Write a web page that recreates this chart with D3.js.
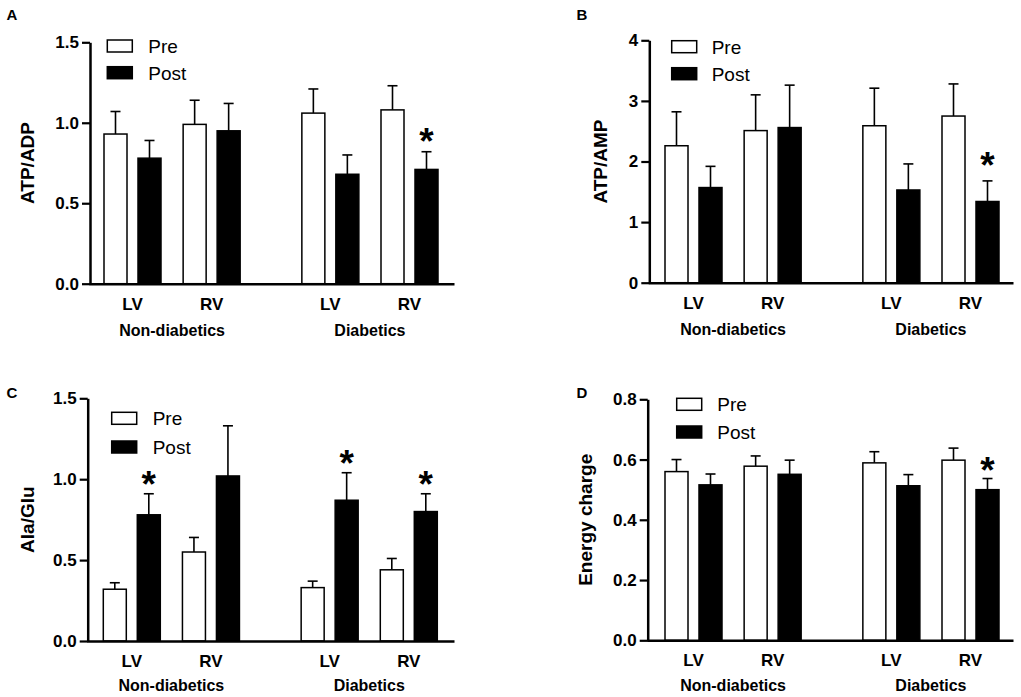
<!DOCTYPE html>
<html>
<head>
<meta charset="utf-8">
<script src="https://cdn.jsdelivr.net/npm/d3@7"></script>
<style>
  html, body { margin: 0; padding: 0; background: #fff; }
  svg { display: block; font-family: "Liberation Sans", Arial, sans-serif; }
</style>
</head>
<body>
<svg id="chart" width="1021" height="697"></svg>
<script>
// ---------- data ----------
const groupNames = ["Non-diabetics", "Diabetics"];
const ventricles = ["LV", "RV", "LV", "RV"];
const seriesNames = ["Pre", "Post"];

// Panel A: ATP/ADP
const atpAdpPre = [0.93, 0.99, 1.06, 1.08];
const atpAdpPreSem = [0.14, 0.15, 0.15, 0.15];
const atpAdpPost = [0.78, 0.95, 0.68, 0.71];
const atpAdpPostSem = [0.11, 0.17, 0.12, 0.11];
const atpAdpSig = [0, 0, 0, 1];
const atpAdpTicks = [0, 0.5, 1.0, 1.5];
const atpAdpTickLabels = ["0.0", "0.5", "1.0", "1.5"];

// Panel B: ATP/AMP
const atpAmpPre = [2.26, 2.51, 2.59, 2.75];
const atpAmpPreSem = [0.56, 0.59, 0.62, 0.53];
const atpAmpPost = [1.57, 2.56, 1.53, 1.34];
const atpAmpPostSem = [0.35, 0.70, 0.43, 0.34];
const atpAmpSig = [0, 0, 0, 1];
const atpAmpTicks = [0, 1, 2, 3, 4];
const atpAmpTickLabels = ["0", "1", "2", "3", "4"];

// Panel C: Ala/Glu
const alaGluPre = [0.32, 0.55, 0.33, 0.44];
const alaGluPreSem = [0.04, 0.09, 0.04, 0.07];
const alaGluPost = [0.78, 1.02, 0.87, 0.80];
const alaGluPostSem = [0.13, 0.31, 0.17, 0.11];
const alaGluSig = [1, 0, 1, 1];
const alaGluTicks = [0, 0.5, 1.0, 1.5];
const alaGluTickLabels = ["0.0", "0.5", "1.0", "1.5"];

// Panel D: Energy charge
const energyPre = [0.560, 0.578, 0.589, 0.598];
const energyPreSem = [0.040, 0.034, 0.037, 0.040];
const energyPost = [0.516, 0.551, 0.513, 0.500];
const energyPostSem = [0.036, 0.047, 0.037, 0.037];
const energySig = [0, 0, 0, 1];
const energyTicks = [0, 0.2, 0.4, 0.6, 0.8];
const energyTickLabels = ["0.0", "0.2", "0.4", "0.6", "0.8"];

// category slot positions (gap between groups)
const slots = [0, 1, 2.5, 3.5];

// ---------- layout ----------
const panels = [
  { letter: "A", title: "ATP/ADP", pre: atpAdpPre, preSem: atpAdpPreSem, post: atpAdpPost, postSem: atpAdpPostSem,
    sig: atpAdpSig, ticks: atpAdpTicks, tickLabels: atpAdpTickLabels,
    letterX: 12, letterY: 15, axisX: 90, yTop: 42.3, yBot: 283.7, xEnd: 454, c0: 132.5,
    titleX: 27, legX: 107.3, legY: [40, 66.7], legTextX: 148.3, groupDy: 47, starOff: 19 },
  { letter: "B", title: "ATP/AMP", pre: atpAmpPre, preSem: atpAmpPreSem, post: atpAmpPost, postSem: atpAmpPostSem,
    sig: atpAmpSig, ticks: atpAmpTicks, tickLabels: atpAmpTickLabels,
    letterX: 582, letterY: 15, axisX: 649.3, yTop: 40.3, yBot: 282.7, xEnd: 1013, c0: 693.5,
    titleX: 600, legX: 671.7, legY: [40.7, 67.7], legTextX: 711.7, groupDy: 47, starOff: 24 },
  { letter: "C", title: "Ala/Glu", pre: alaGluPre, preSem: alaGluPreSem, post: alaGluPost, postSem: alaGluPostSem,
    sig: alaGluSig, ticks: alaGluTicks, tickLabels: alaGluTickLabels,
    letterX: 12, letterY: 393, axisX: 87.7, yTop: 398.3, yBot: 641, xEnd: 454, c0: 131.8,
    titleX: 27, legX: 111.7, legY: [412.3, 441], legTextX: 152.7, groupDy: 44, starOff: 18 },
  { letter: "D", title: "Energy charge", pre: energyPre, preSem: energyPreSem, post: energyPost, postSem: energyPostSem,
    sig: energySig, ticks: energyTicks, tickLabels: energyTickLabels,
    letterX: 582, letterY: 393, axisX: 647.7, yTop: 399.3, yBot: 640.3, xEnd: 1013, c0: 693.5,
    titleX: 585, legX: 676.7, legY: [398.3, 426], legTextX: 717.3, groupDy: 44.5, starOff: 17 }
];

const svg = d3.select("#chart");
const barW = 23, halfGap = 17, capW = 10, starSize = 37;

panels.forEach(p => {
  const g = svg.append("g");
  const tickMax = p.ticks[p.ticks.length - 1];
  const y = d3.scaleLinear().domain([0, tickMax]).range([p.yBot, p.yTop]);
  const x = d3.scaleLinear().domain([0, 3.5]).range([p.c0, p.c0 + 277]);

  // panel letter
  g.append("text").attr("x", p.letterX).attr("y", p.letterY).attr("dy", "0.36em")
    .attr("text-anchor", "middle").attr("font-weight", "bold").attr("font-size", 15).text(p.letter);

  // y title
  g.append("text").attr("transform", `translate(${p.titleX},${(p.yTop + p.yBot) / 2}) rotate(-90)`)
    .attr("text-anchor", "middle").attr("dy", "0.36em")
    .attr("font-weight", "bold").attr("font-size", 19).text(p.title);

  // bars
  const rows = slots.map((s, i) => [
    { cx: x(s) - halfGap, v: p.pre[i], e: p.preSem[i], fill: "#fff", sig: 0 },
    { cx: x(s) + halfGap, v: p.post[i], e: p.postSem[i], fill: "#000", sig: p.sig[i] }
  ]).flat();

  // error bars (drawn first so bar covers the lower portion)
  const eb = g.append("g").attr("stroke", "#000").attr("stroke-width", 1.6);
  rows.forEach(r => {
    eb.append("line").attr("x1", r.cx).attr("x2", r.cx).attr("y1", y(r.v)).attr("y2", y(r.v + r.e));
    eb.append("line").attr("x1", r.cx - capW / 2).attr("x2", r.cx + capW / 2)
      .attr("y1", y(r.v + r.e)).attr("y2", y(r.v + r.e));
  });

  g.append("g").selectAll("rect").data(rows).join("rect")
    .attr("x", d => d.cx - barW / 2).attr("width", barW)
    .attr("y", d => y(d.v)).attr("height", d => y(0) - y(d.v))
    .attr("fill", d => d.fill).attr("stroke", "#000").attr("stroke-width", 1.5);

  // significance stars
  g.append("g").selectAll("text").data(rows.filter(r => r.sig)).join("text")
    .attr("x", d => d.cx).attr("y", d => y(d.v + d.e) - p.starOff + 0.58 * starSize)
    .attr("text-anchor", "middle").attr("font-weight", "bold").attr("font-size", starSize).text("*");

  // y axis
  const yAxis = d3.axisLeft(y).tickValues(p.ticks).tickFormat((d, i) => p.tickLabels[i])
    .tickSize(8).tickSizeOuter(0).tickPadding(3);
  const ya = g.append("g").attr("transform", `translate(${p.axisX},0)`).call(yAxis);
  ya.select(".domain").attr("stroke-width", 2.5);
  ya.selectAll(".tick line").attr("stroke-width", 2.2);
  ya.selectAll(".tick text").attr("font-family", "Liberation Sans, Arial, sans-serif")
    .attr("font-size", 17).attr("font-weight", "bold").attr("fill", "#000");

  // x axis line
  const xl = d3.scaleLinear().domain([0, 1]).range([p.axisX - 1, p.xEnd]);
  const xa = g.append("g").attr("transform", `translate(0,${p.yBot})`)
    .call(d3.axisBottom(xl).tickValues([]).tickSizeOuter(0));
  xa.select(".domain").attr("stroke-width", 2.5);

  // category labels
  g.append("g").selectAll("text").data(slots).join("text")
    .attr("x", d => x(d)).attr("y", p.yBot + 20).attr("dy", "0.36em")
    .attr("text-anchor", "middle").attr("font-weight", "bold").attr("font-size", 17)
    .text((d, i) => ventricles[i]);

  // group labels
  g.append("g").selectAll("text").data(groupNames).join("text")
    .attr("x", (d, i) => (x(slots[i * 2]) + x(slots[i * 2 + 1])) / 2)
    .attr("y", p.yBot + p.groupDy).attr("dy", "0.36em")
    .attr("text-anchor", "middle").attr("font-weight", "bold").attr("font-size", 16)
    .text(d => d);

  // legend
  seriesNames.forEach((s, i) => {
    g.append("rect").attr("x", p.legX).attr("y", p.legY[i]).attr("width", 25).attr("height", 12)
      .attr("fill", i === 0 ? "#fff" : "#000").attr("stroke", "#000").attr("stroke-width", 1.5);
    g.append("text").attr("x", p.legTextX).attr("y", p.legY[i] + 6).attr("dy", "0.36em")
      .attr("font-size", 19).text(s);
  });
});
</script>
</body>
</html>
